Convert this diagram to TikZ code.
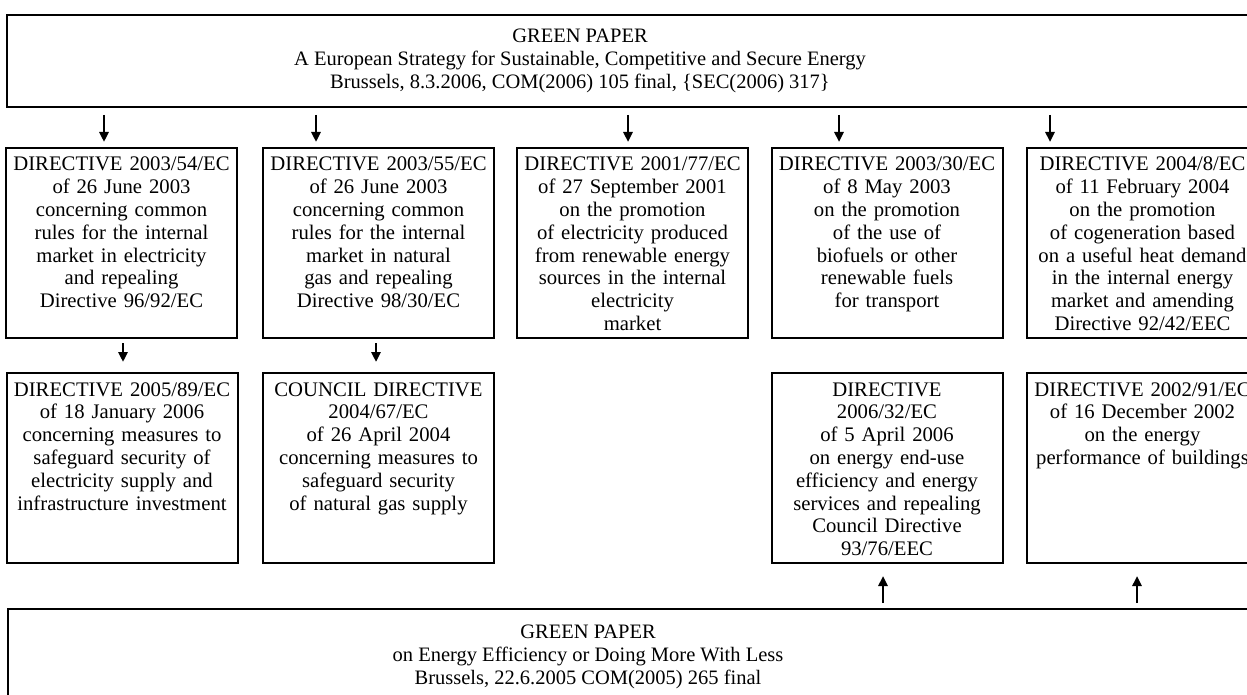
\documentclass[tikz,border=0pt]{standalone}
\usepackage{fontspec}
\setmainfont{Liberation Serif}
\usetikzlibrary{arrows.meta}
\begin{document}
\begin{tikzpicture}
  [x=1pt, y=-1pt,
   paper/.style={draw, line width=2pt, anchor=north west, minimum width=1256pt, inner sep=0pt},
   directive/.style={draw, line width=2pt, anchor=north, text width=227pt, align=center,
     inner xsep=2pt, inner ysep=3pt, text height=20pt, text depth=164pt,
     font=\fontsize{20.7}{22.8}\selectfont},
   title/.style={align=center, font=\fontsize{20.5}{23}\selectfont},
   arr/.style={line width=2.7pt, -{Triangle[length=10pt,width=9pt]}}]
  \useasboundingbox (0,0) rectangle (1247,695);
  \clip (0,0) rectangle (1247,695);
  \node[paper, minimum height=92pt] (gp1) at (6,14) {};
  \node[title] (gp1text) at (580,61)
    {GREEN PAPER\\ A European Strategy for Sustainable, Competitive and Secure Energy\\
     Brussels, 8.3.2006, COM(2006) 105 final, \{SEC(2006) 317\}};
  \node[directive] (d11) at (121.5,147)
    {DIRECTIVE 2003/54/EC\\ of 26 June 2003\\ concerning common\\ rules for the internal\\
     market in electricity\\ and repealing\\ Directive 96/92/EC};
  \node[directive] (d12) at (378.5,147)
    {DIRECTIVE 2003/55/EC\\ of 26 June 2003\\ concerning common\\ rules for the internal\\
     market in natural\\ gas and repealing\\ Directive 98/30/EC};
  \node[directive] (d13) at (632.5,147)
    {DIRECTIVE 2001/77/EC\\ of 27 September 2001\\ on the promotion\\ of electricity produced\\
     from renewable energy\\ sources in the internal\\ electricity\\ market};
  \node[directive] (d14) at (887,147)
    {DIRECTIVE 2003/30/EC\\ of 8 May 2003\\ on the promotion\\ of the use of\\
     biofuels or other\\ renewable fuels\\ for transport};
  \node[directive] (d15) at (1142.5,147)
    {DIRECTIVE 2004/8/EC\\ of 11 February 2004\\ on the promotion\\ of cogeneration based\\
     on a useful heat demand\\ in the internal energy\\ market and amending\\ Directive 92/42/EEC};
  \node[directive] (d21) at (122,372)
    {DIRECTIVE 2005/89/EC\\ of 18 January 2006\\ concerning measures to\\ safeguard security of\\
     electricity supply and\\ infrastructure investment};
  \node[directive] (d22) at (378.5,372)
    {COUNCIL DIRECTIVE\\ 2004/67/EC\\ of 26 April 2004\\ concerning measures to\\
     safeguard security\\ of natural gas supply};
  \node[directive] (d24) at (887,372)
    {DIRECTIVE\\ 2006/32/EC\\ of 5 April 2006\\ on energy end-use\\ efficiency and energy\\
     services and repealing\\ Council Directive\\ 93/76/EEC};
  \node[directive] (d25) at (1142.5,372)
    {DIRECTIVE 2002/91/EC\\ of 16 December 2002\\ on the energy\\ performance of buildings};
  \node[paper, minimum height=100pt] (gp2) at (7,608) {};
  \node[title] (gp2text) at (588,657)
    {GREEN PAPER\\ on Energy Efficiency or Doing More With Less\\
     Brussels, 22.6.2005 COM(2005) 265 final};
  \foreach \b/\x in {d11/104, d12/316, d13/628, d14/839, d15/1050}
    \draw[arr, shorten <=7pt, shorten >=5pt] (\x,0 |- gp1.south) -- (\x,0 |- \b.north);
  \foreach \a/\b/\x in {d11/d21/123, d12/d22/376}
    \draw[arr, shorten <=4pt, shorten >=10pt] (\x,0 |- \a.south) -- (\x,0 |- \b.north);
  \foreach \b/\x in {d24/883, d25/1137}
    \draw[arr, shorten <=5pt, shorten >=12pt] (\x,0 |- gp2.north) -- (\x,0 |- \b.south);
\end{tikzpicture}
\end{document}
